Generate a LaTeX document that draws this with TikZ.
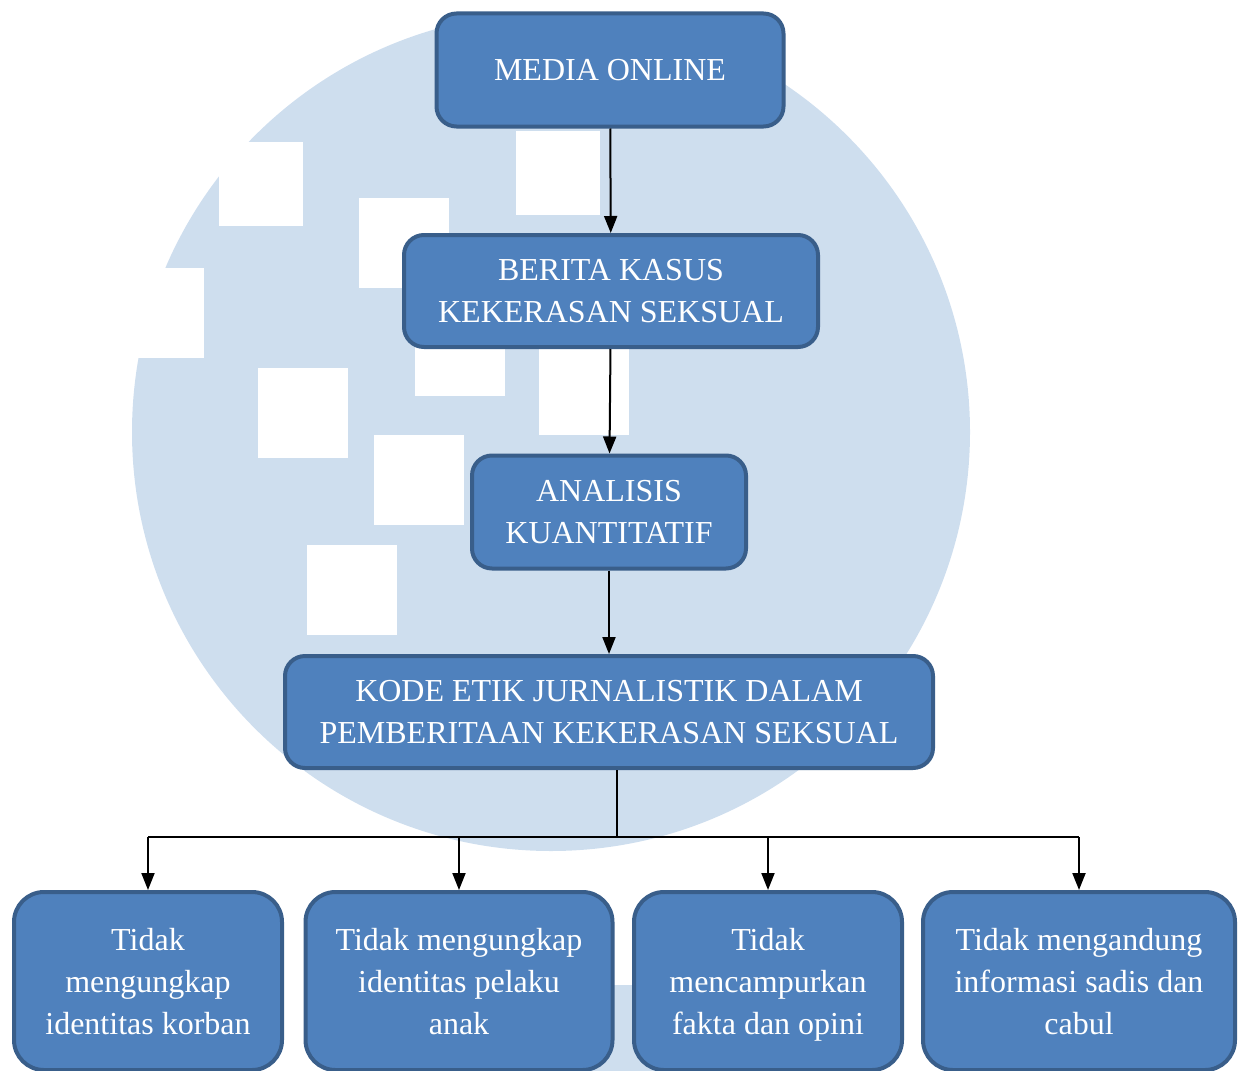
\documentclass[tikz,border=0pt]{standalone}
\usepackage{fontspec}
\setmainfont{Liberation Serif}
\usepackage{tikz}
\usetikzlibrary{arrows.meta}
\definecolor{bgblue}{RGB}{206,222,238}
\definecolor{boxfill}{RGB}{79,129,189}
\definecolor{boxline}{RGB}{57,94,138}

\begin{document}
\begin{tikzpicture}[x = 1pt, y = -1pt,
	box/.style = {draw=boxline, fill=boxfill, line width=4pt, rounded corners=20pt, text=white, align=center, inner sep=0pt, font=\fontsize{32}{42}\selectfont},
	leaf/.style = {box, rounded corners=30pt, minimum height=178pt, text depth=0pt},
	arr/.style = {line width=2pt, -{Triangle[width=13pt,length=17pt]}},
]
\useasboundingbox (0,0) rectangle (1246,1070);

\fill[bgblue] (551,432) circle [radius=419];
\fill[bgblue] (622,1400) circle [radius=415];

\foreach \x/\y/\w in {219/142/84, 516/131/84, 359/198/90, 114/268/90, 415/306/90, 539/345/90, 258/368/90, 374/435/90, 307/545/90}
	{
		\fill[white] (\x,\y) rectangle ++(\w,\w);
	}

\node[box, minimum width=347pt, minimum height=113pt] (media) at (610,70) {MEDIA ONLINE};
\node[box, minimum width=414pt, minimum height=112pt] (berita) at (611,291) {BERITA KASUS\\KEKERASAN SEKSUAL};
\node[box, minimum width=274pt, minimum height=113pt] (analisis) at (609,512) {ANALISIS\\KUANTITATIF};
\node[box, minimum width=648pt, minimum height=112pt] (kode) at (609,712) {KODE ETIK JURNALISTIK DALAM\\PEMBERITAAN KEKERASAN SEKSUAL};

\node[leaf, minimum width=268pt] (korban) at (148,981) {Tidak\\mengungkap\\identitas korban};
\node[leaf, minimum width=307pt] (pelaku) at (459,981) {Tidak mengungkap\\identitas pelaku\\anak};
\node[leaf, minimum width=268pt] (opini) at (768,981) {Tidak\\mencampurkan\\fakta dan opini};
\node[leaf, minimum width=312pt] (cabul) at (1079,981) {Tidak mengandung\\informasi sadis dan\\cabul};

\draw[arr] (media) -- (berita);
\draw[arr] (berita) -- (analisis);
\draw[arr] (analisis) -- (kode);

\draw[line width=2pt] (kode.south) ++(8,0) -- ++(0,67) coordinate (hub);
\draw[line width=2pt] (hub -| korban.north) -- (hub -| cabul.north);
\foreach \n in {korban, pelaku, opini, cabul}
	{
		\draw[arr] (hub -| \n.north) -- (\n.north);
	}

\end{tikzpicture}
\end{document}
